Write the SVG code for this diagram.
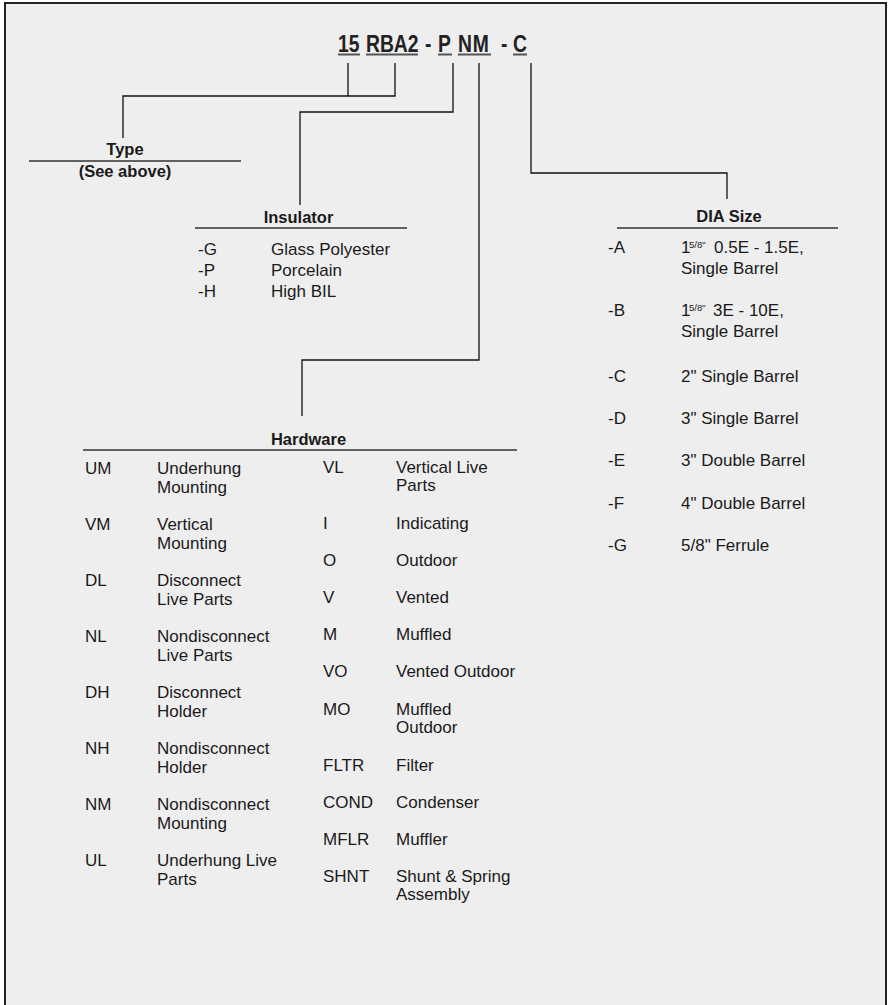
<svg xmlns="http://www.w3.org/2000/svg" width="890" height="1005" viewBox="0 0 890 1005">
<style>
.t{font-family:"Liberation Sans",Arial,sans-serif;font-size:17px;fill:#1a1a1a}
.h{font-family:"Liberation Sans",Arial,sans-serif;font-size:16.5px;font-weight:bold;fill:#1a1a1a}
.ti{font-family:"Liberation Sans",Arial,sans-serif;font-size:23px;font-weight:bold;fill:#222}
.sup{font-family:"Liberation Sans",Arial,sans-serif;font-size:9.5px;fill:#1a1a1a}
.c{fill:none;stroke:#111;stroke-width:1.3}
.u{stroke:#333;stroke-width:1.6}
.tu{stroke:#555;stroke-width:2}
</style>
<rect x="0" y="0" width="890" height="1005" fill="#ffffff"/>
<rect x="5" y="3" width="881" height="1010" fill="#eeeeee" stroke="#222" stroke-width="2"/>

<g id="title">
<text class="ti" transform="translate(338,52) scale(0.84,1)"><tspan x="0" y="0">15</tspan><tspan x="33.3" y="0">RBA2</tspan><tspan x="103.6" y="0">-</tspan><tspan x="119" y="0">P</tspan><tspan x="142.9" y="0" letter-spacing="1">NM</tspan><tspan x="194" y="0">-</tspan><tspan x="208.3" y="0">C</tspan></text>
<line class="tu" x1="338" y1="54.5" x2="360" y2="54.5"/>
<line class="tu" x1="366" y1="54.5" x2="418" y2="54.5"/>
<line class="tu" x1="438" y1="54.5" x2="452" y2="54.5"/>
<line class="tu" x1="458" y1="54.5" x2="491" y2="54.5"/>
<line class="tu" x1="513" y1="54.5" x2="527" y2="54.5"/>
</g>

<g id="connectors">
<polyline class="c" points="348,63 348,96"/>
<polyline class="c" points="395,63 395,96 123,96 123,138"/>
<polyline class="c" points="453,63 453,112 300,112 300,205"/>
<polyline class="c" points="479,63 479,360 302,360 302,416"/>
<polyline class="c" points="531,63 531,173 727,173 727,199"/>
</g>

<g id="type">
<text class="h" x="125" y="155" text-anchor="middle">Type</text>
<line class="u" x1="29" y1="161" x2="241" y2="161"/>
<text class="h" x="125" y="177" text-anchor="middle">(See above)</text>
</g>

<g id="insulator">
<text class="h" x="298.5" y="223" text-anchor="middle">Insulator</text>
<line class="u" x1="195" y1="228" x2="407" y2="228"/>
<text class="t" x="198" y="255">-G</text><text class="t" x="271" y="255">Glass Polyester</text>
<text class="t" x="198" y="276">-P</text><text class="t" x="271" y="276">Porcelain</text>
<text class="t" x="198" y="297">-H</text><text class="t" x="271" y="297">High BIL</text>
</g>

<g id="dia-size">
<text class="h" x="729" y="222" text-anchor="middle">DIA Size</text>
<line class="u" x1="617" y1="228" x2="838" y2="228"/>
<text class="t" x="608" y="253">-A</text>
<text class="t" x="681" y="253">1</text><text class="sup" x="689" y="248">5/8"</text><text class="t" x="714" y="253">0.5E - 1.5E,</text>
<text class="t" x="681" y="274">Single Barrel</text>
<text class="t" x="608" y="316">-B</text>
<text class="t" x="681" y="316">1</text><text class="sup" x="689" y="311">5/8"</text><text class="t" x="713" y="316">3E - 10E,</text>
<text class="t" x="681" y="337">Single Barrel</text>
<text class="t" x="608" y="382">-C</text><text class="t" x="681" y="382">2" Single Barrel</text>
<text class="t" x="608" y="424">-D</text><text class="t" x="681" y="424">3" Single Barrel</text>
<text class="t" x="608" y="466">-E</text><text class="t" x="681" y="466">3" Double Barrel</text>
<text class="t" x="608" y="509">-F</text><text class="t" x="681" y="509">4" Double Barrel</text>
<text class="t" x="608" y="551">-G</text><text class="t" x="681" y="551">5/8" Ferrule</text>
</g>

<g id="hardware">
<text class="h" x="308.5" y="445" text-anchor="middle">Hardware</text>
<line class="u" x1="83" y1="450" x2="517" y2="450"/>
<text class="t" x="85" y="474">UM</text><text class="t" x="157" y="474">Underhung</text><text class="t" x="157" y="493">Mounting</text>
<text class="t" x="85" y="530">VM</text><text class="t" x="157" y="530">Vertical</text><text class="t" x="157" y="549">Mounting</text>
<text class="t" x="85" y="586">DL</text><text class="t" x="157" y="586">Disconnect</text><text class="t" x="157" y="605">Live Parts</text>
<text class="t" x="85" y="642">NL</text><text class="t" x="157" y="642">Nondisconnect</text><text class="t" x="157" y="661">Live Parts</text>
<text class="t" x="85" y="698">DH</text><text class="t" x="157" y="698">Disconnect</text><text class="t" x="157" y="717">Holder</text>
<text class="t" x="85" y="754">NH</text><text class="t" x="157" y="754">Nondisconnect</text><text class="t" x="157" y="773">Holder</text>
<text class="t" x="85" y="810">NM</text><text class="t" x="157" y="810">Nondisconnect</text><text class="t" x="157" y="829">Mounting</text>
<text class="t" x="85" y="866">UL</text><text class="t" x="157" y="866">Underhung Live</text><text class="t" x="157" y="885">Parts</text>

<text class="t" x="323" y="473">VL</text><text class="t" x="396" y="473">Vertical Live</text><text class="t" x="396" y="491">Parts</text>
<text class="t" x="323" y="529">I</text><text class="t" x="396" y="529">Indicating</text>
<text class="t" x="323" y="566">O</text><text class="t" x="396" y="566">Outdoor</text>
<text class="t" x="323" y="603">V</text><text class="t" x="396" y="603">Vented</text>
<text class="t" x="323" y="640">M</text><text class="t" x="396" y="640">Muffled</text>
<text class="t" x="323" y="677">VO</text><text class="t" x="396" y="677">Vented Outdoor</text>
<text class="t" x="323" y="715">MO</text><text class="t" x="396" y="715">Muffled</text><text class="t" x="396" y="733">Outdoor</text>
<text class="t" x="323" y="771">FLTR</text><text class="t" x="396" y="771">Filter</text>
<text class="t" x="323" y="808">COND</text><text class="t" x="396" y="808">Condenser</text>
<text class="t" x="323" y="845">MFLR</text><text class="t" x="396" y="845">Muffler</text>
<text class="t" x="323" y="882">SHNT</text><text class="t" x="396" y="882">Shunt &amp; Spring</text><text class="t" x="396" y="900">Assembly</text>
</g>
</svg>
